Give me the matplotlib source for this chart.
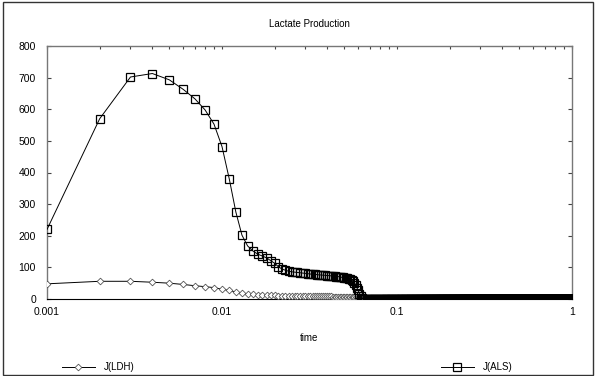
import numpy as np
import matplotlib.pyplot as plt
from matplotlib.lines import Line2D
from matplotlib.patches import Rectangle
from matplotlib.ticker import FixedLocator, FixedFormatter, LogLocator, NullFormatter

plt.rcParams['font.family'] = ['Liberation Sans', 'DejaVu Sans']

# simulation output, one sample every 0.001 time units
dt = 0.001
t_end = 1.0

# values read for t = 0.001 ... 0.065
als_head = [220, 570, 702, 713, 693, 663, 633, 598, 553, 482,
            380, 275, 202, 168, 152, 142, 136, 130, 121, 113,
            102, 95, 91, 88, 86, 85, 84, 83, 82, 81,
            80, 79, 78, 78, 77, 76, 76, 75, 75, 74,
            74, 73, 72, 72, 71, 71, 70, 69, 68, 67,
            66, 65, 64, 63, 61, 58, 52, 45, 36, 27,
            17, 9, 4, 1, 0]
ldh_head = [48, 56, 56, 53, 50, 46, 42, 39, 36, 31,
            27, 22, 18, 16, 15, 14, 13, 13, 12, 12,
            11, 11, 11, 10, 10, 10, 10, 9, 9, 9,
            9, 9, 9, 8, 8, 8, 8, 8, 8, 8,
            8, 8, 7, 7, 7, 7, 7, 7, 7, 7,
            7, 7, 7, 7, 7, 6, 6, 5, 4, 3,
            2, 1, 0, 0, 0]
tail_value = 0  # both fluxes stay at zero after t = 0.065

xticks = [0.001, 0.01, 0.1, 1]
xtick_labels = ['0.001', '0.01', '0.1', '1']
yticks = [0, 100, 200, 300, 400, 500, 600, 700, 800]

t = np.arange(1, int(round(t_end / dt)) + 1) * dt
n_tail = len(t) - len(als_head)
als = np.array(als_head + [tail_value] * n_tail, dtype=float)
ldh = np.array(ldh_head + [tail_value] * n_tail, dtype=float)

fig = plt.figure(figsize=(5.95, 3.76), dpi=100)
ax = fig.add_axes([47 / 595, 1 - 299 / 376, (572 - 47) / 595, (299 - 46) / 376])

ldh_style = dict(color='black', linewidth=0.7, marker='D', markersize=3.4,
                 markerfacecolor='white', markeredgecolor='#555555', markeredgewidth=0.6)
als_style = dict(color='black', linewidth=0.7, marker='s', markersize=5.6,
                 markerfacecolor='none', markeredgecolor='black', markeredgewidth=0.9)

ax.plot(t, ldh, label='J(LDH)', zorder=3, **ldh_style)
ax.plot(t, als, label='J(ALS)', zorder=4, **als_style)

ax.set_xscale('log')
ax.set_xlim(0.001, 1)
ax.set_ylim(0, 800)
ax.xaxis.set_major_locator(FixedLocator(xticks))
ax.xaxis.set_major_formatter(FixedFormatter(xtick_labels))
ax.xaxis.set_minor_locator(LogLocator(base=10, subs=np.arange(2, 10)))
ax.xaxis.set_minor_formatter(NullFormatter())
ax.set_yticks(yticks)

ax.tick_params(axis='both', which='both', direction='in', labelsize=7.5, colors='#444444',
               labelcolor='black', width=0.8)
ax.tick_params(axis='x', which='both', bottom=False, top=True, length=2, pad=6)
ax.tick_params(axis='y', left=True, right=True, length=3, pad=8)

for side in ['left', 'top', 'right']:
    ax.spines[side].set_color('#777777')
    ax.spines[side].set_linewidth(1.0)
ax.spines['bottom'].set_color('black')
ax.spines['bottom'].set_linewidth(0.8)

fig.text(309 / 595, 1 - 24 / 376, 'Lactate Production', ha='center', va='center', fontsize=7)
fig.text(309 / 595, 1 - 338 / 376, 'time', ha='center', va='center', fontsize=7)

# legend entries sit apart at the bottom of the frame
h_ldh = Line2D([], [], **ldh_style)
h_als = Line2D([], [], **als_style)
fig.legend([h_ldh], ['J(LDH)'], loc='center left', bbox_to_anchor=(58 / 595, 1 - 367 / 376),
           frameon=False, fontsize=7, handlelength=3.4, handletextpad=0.9, borderaxespad=0)
fig.legend([h_als], ['J(ALS)'], loc='center left', bbox_to_anchor=(437 / 595, 1 - 367 / 376),
           frameon=False, fontsize=7, handlelength=3.4, handletextpad=0.9, borderaxespad=0)

fig.patches.append(Rectangle((3 / 595, 1 / 376), 590 / 595, 373 / 376, transform=fig.transFigure,
                             fill=False, edgecolor='#333333', linewidth=1.0))

fig.savefig('out.png', dpi=100)
